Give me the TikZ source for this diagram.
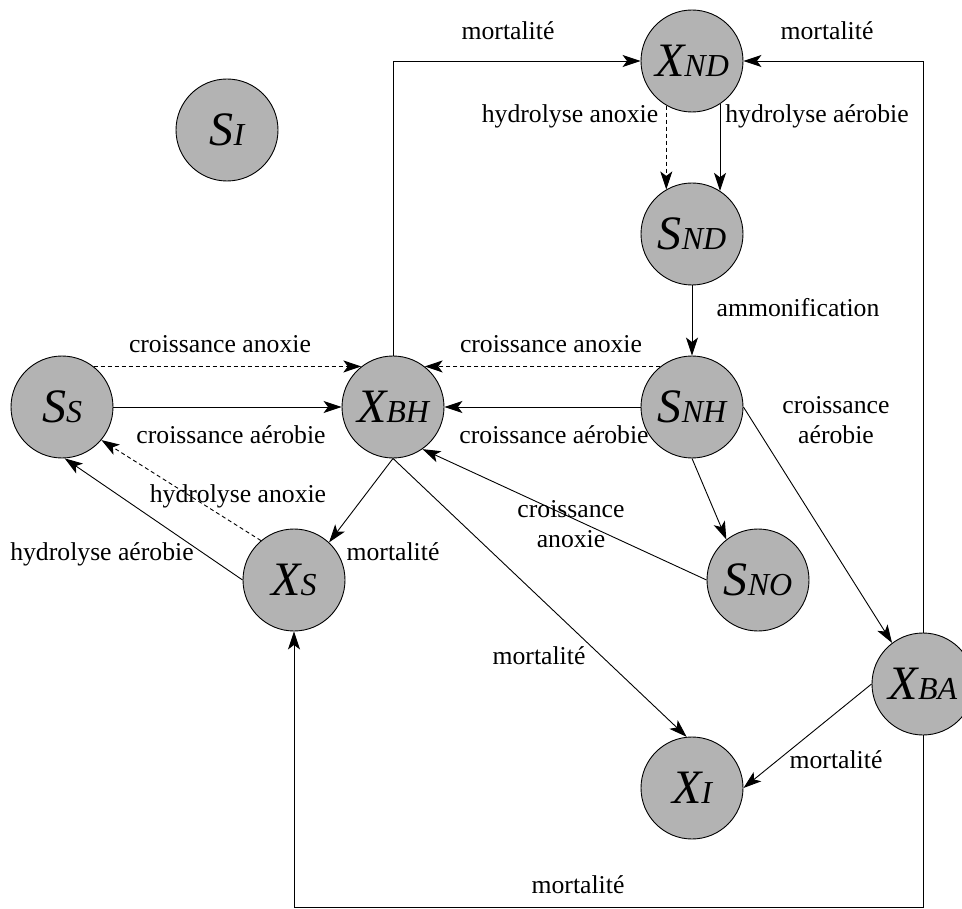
\documentclass[tikz,border=0pt]{standalone}
\usepackage{fontspec}
\setmainfont{Liberation Serif}
\newfontfamily\lblfont{Liberation Serif}
\usetikzlibrary{arrows.meta}
\definecolor{nodefill}{RGB}{179,179,179}
\newcommand\vname[2]{{\lblfont\fontsize{48}{48}\selectfont\itshape #1}{\lblfont\fontsize{32}{32}\selectfont\itshape #2}}
\begin{document}
\begin{tikzpicture}[x=1pt,y=-1pt,
  state/.style={circle,draw=black,line width=0.9pt,fill=nodefill,minimum size=102pt,inner sep=0pt},
  flow/.style={line width=0.9pt,-{Stealth[length=18pt,width=12pt,inset=4.5pt]}},
  anox/.style={flow,dash pattern=on 4pt off 3pt},
  lbl/.style={font=\lblfont\fontsize{25.7}{30}\selectfont,inner sep=0pt,anchor=base},
  ]
\useasboundingbox (0,0) rectangle (962,909);
% nodes
\node[state] (SI)  at (227,130) {\vname{S}{I}};
\node[state] (XND) at (692,61)  {\vname{X}{ND}};
\node[state] (SND) at (692,234) {\vname{S}{ND}};
\node[state] (SS)  at (62,407)  {\vname{S}{S}};
\node[state] (XBH) at (393,407) {\vname{X}{BH}};
\node[state] (SNH) at (692,407) {\vname{S}{NH}};
\node[state] (SNO) at (758,580) {\vname{S}{NO}};
\node[state] (XS)  at (294,580) {\vname{X}{S}};
\node[state] (XBA) at (923,684) {\vname{X}{BA}};
\node[state] (XI)  at (692,788) {\vname{X}{I}};
\coordinate (cBL) at (294,907);
% connectors
\draw[flow] (XBH.north) |- (XND.west);
\draw[flow] (XBA.north) |- (XND.east);
\draw[anox] (XND.240) -- (SND.120);
\draw[flow] (XND.303) -- (SND.57);
\draw[flow] (SND) -- (SNH);
\draw[anox] (SS.52) -- (XBH.128);
\draw[flow] (SS) -- (XBH);
\draw[anox] (SNH.128) -- (XBH.52);
\draw[flow] (SNH) -- (XBH);
\draw[flow] (SNO.west) -- (XBH.-55);
\draw[flow] (SNH.south) -- (SNO.128);
\draw[flow] (SNH.east) -- (XBA.127);
\draw[flow] (XBH.south) -- (XS.47);
\draw[flow] (XBH.south) -- (XI.96);
\draw[flow] (XBA.west) -- (XI.east);
\draw[flow] (XBA.south) |- (cBL) -- (XS.south);
\draw[flow] (XS.west) -- (SS.-87);
\draw[anox] (XS.130) -- (SS.-40);
% labels
\node[lbl] (l1) at (508,40) {mortalité};
\node[lbl] (l2) at (827,40) {mortalité};
\node[lbl] (l3) at (570,123) {hydrolyse anoxie};
\node[lbl] (l4) at (817,123) {hydrolyse aérobie};
\node[lbl] (l5) at (798,317) {ammonification};
\node[lbl] (l6) at (220,353) {croissance anoxie};
\node[lbl] (l7) at (231,443) {croissance aérobie};
\node[lbl] (l8) at (551,353) {croissance anoxie};
\node[lbl] (l9) at (554,443) {croissance aérobie};
\node[lbl,align=center] (l10) at (571,547) {croissance\\anoxie};
\node[lbl,align=center] (l11) at (836,443) {croissance\\aérobie};
\node[lbl] (l12) at (238,502) {hydrolyse anoxie};
\node[lbl] (l13) at (102,560) {hydrolyse aérobie};
\node[lbl] (l14) at (393,560) {mortalité};
\node[lbl] (l15) at (539,664) {mortalité};
\node[lbl] (l16) at (836,768) {mortalité};
\node[lbl] (l17) at (578,893) {mortalité};
\end{tikzpicture}
\end{document}
